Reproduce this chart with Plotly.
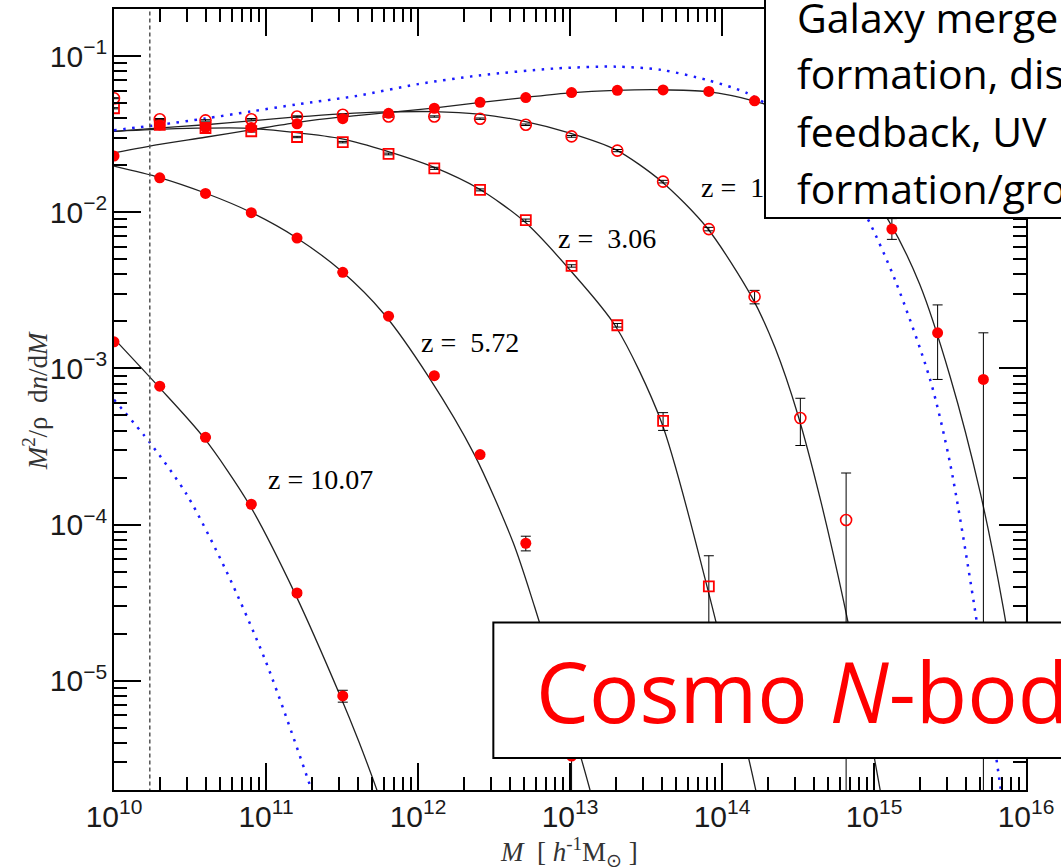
import numpy as np
import plotly.graph_objects as go

# ---- halo mass bins (h^-1 Msun), factor-of-two spacing ----
mass_bins = [1.0e10, 2.0e10, 4.0e10, 8.0e10, 1.6e11, 3.2e11, 6.4e11, 1.28e12, 2.56e12, 5.12e12,
             1.024e13, 2.048e13, 4.096e13, 8.192e13, 1.638e14, 3.277e14, 6.554e14, 1.311e15,
             2.621e15, 5.243e15]

# ---- measured mass functions  M^2/rho dn/dM ----
z0_vals = [0.0229, 0.0362, 0.0349, 0.0349, 0.0368, 0.0397, 0.0430, 0.0463, 0.0505, 0.0542,
           0.0583, 0.0603, 0.0607, 0.0593, 0.0517, 0.0400, 0.0212, 0.0078, 0.00169, 0.00085]
z0_err_hi = [0.0004, 0.0003, 0.0003, 0.0003, 0.0003, 0.0003, 0.0003, 0.0003, 0.0004, 0.0004,
             0.0005, 0.0005, 0.0006, 0.0008, 0.0012, 0.0020, 0.0025, 0.0013, 0.00086, 0.00084]
z0_err_lo = [0.0004, 0.0003, 0.0003, 0.0003, 0.0003, 0.0003, 0.0003, 0.0003, 0.0004, 0.0004,
             0.0005, 0.0005, 0.0006, 0.0008, 0.0012, 0.0020, 0.0025, 0.0011, 0.00084, 0.00085]

z15_vals = [0.0537, 0.0394, 0.0387, 0.0394, 0.0410, 0.0421, 0.0410, 0.0410, 0.0397, 0.0363,
            0.0306, 0.0248, 0.0157, 0.0078, 0.00288, 0.000481, 0.000107]
z15_err_hi = [0.0004, 0.0004, 0.0004, 0.0004, 0.0004, 0.0004, 0.0004, 0.0004, 0.0004, 0.0004,
              0.0004, 0.0004, 0.0003, 0.0002, 0.00028, 0.000163, 0.000107]
z15_err_lo = [0.0004, 0.0004, 0.0004, 0.0004, 0.0004, 0.0004, 0.0004, 0.0004, 0.0004, 0.0004,
              0.0004, 0.0004, 0.0003, 0.0002, 0.00029, 0.000160, 0.000107]

z306_vals = [0.0463, 0.0362, 0.0346, 0.0330, 0.0303, 0.0281, 0.0236, 0.0191, 0.0139, 0.00889,
             0.00453, 0.00189, 0.000461, 0.0000402]
z306_err_hi = [0.0004, 0.0004, 0.0004, 0.0004, 0.0003, 0.0003, 0.0003, 0.0003, 0.0002, 0.00015,
               0.00008, 0.00005, 0.00006, 0.000023]
z306_err_lo = [0.0004, 0.0004, 0.0004, 0.0004, 0.0003, 0.0003, 0.0003, 0.0003, 0.0002, 0.00015,
               0.00008, 0.00005, 0.00006, 0.000030]

z572_vals = [0.0166, 0.0132, 0.00994, 0.00683, 0.00412, 0.00216, 0.000898, 0.000281, 0.000076,
             0.0000033]
z572_err_hi = [0.0001, 0.0001, 0.00008, 0.00006, 0.00004, 0.00002, 0.000012, 0.000008, 0.0000083,
               0.0000030]
z572_err_lo = [0.0001, 0.0001, 0.00008, 0.00006, 0.00004, 0.00002, 0.000012, 0.000008, 0.0000081,
               0.0000033]

z1007_vals = [0.00148, 0.00077, 0.000362, 0.000135, 0.0000365, 0.0000080]
z1007_err = [0.00002, 0.00001, 0.000005, 0.000002, 0.0000012, 0.0000007]

# ---- fitted mass functions (log10 M, log10 f) ----
fit_z0_logm = [10.0, 10.3, 10.6, 10.9, 11.2, 11.5, 11.8, 12.1, 12.4, 12.7, 13.0, 13.3, 13.6, 13.9,
               14.2, 14.5, 14.8, 15.1, 15.3, 15.5, 15.7, 15.85, 16.0]
fit_z0_logf = [-1.62, -1.565, -1.52, -1.473, -1.426, -1.39, -1.362, -1.333, -1.298, -1.266, -1.236,
               -1.22, -1.216, -1.228, -1.285, -1.39, -1.64, -2.06, -2.46, -3.05, -3.80, -4.53, -5.45]

fit_z15_logm = [10.0, 10.24, 10.6, 10.9, 11.2, 11.5, 11.8, 12.1, 12.4, 12.7, 13.0, 13.3, 13.6, 13.9,
                14.2, 14.35, 14.5, 14.65, 14.8, 14.95, 15.05]
fit_z15_logf = [-1.482, -1.465, -1.44, -1.415, -1.39, -1.37, -1.358, -1.356, -1.372, -1.418, -1.493,
                -1.599, -1.801, -2.098, -2.55, -2.87, -3.30, -3.85, -4.49, -5.22, -5.75]

fit_z306_logm = [10.0, 10.24, 10.55, 10.85, 11.2, 11.5, 11.8, 12.1, 12.4, 12.7, 13.0, 13.3, 13.6,
                 13.9, 14.22, 14.3]
fit_z306_logf = [-1.482, -1.471, -1.462, -1.461, -1.49, -1.53, -1.61, -1.71, -1.85, -2.06, -2.37,
                 -2.73, -3.34, -4.39, -5.69, -6.1]

fit_z572_logm = [10.0, 10.3, 10.6, 10.9, 11.2, 11.5, 11.775, 12.07, 12.371, 12.626, 12.768, 13.073,
                 13.128, 13.2]
fit_z572_logf = [-1.705, -1.778, -1.877, -2.0, -2.163, -2.38, -2.65, -3.054, -3.552, -4.115, -4.529,
                 -5.495, -5.686, -5.95]

fit_z1007_logm = [10.0, 10.29, 10.59, 10.89, 11.19, 11.49, 11.61, 11.73, 11.8]
fit_z1007_logf = [-2.809, -3.113, -3.442, -3.871, -4.44, -5.10, -5.387, -5.70, -5.9]

# ---- Press-Schechter predictions (log10 M, log10 f) ----
ps_z0_logm = [10.0, 10.3, 10.6, 10.9, 11.2, 11.6, 12.0, 12.4, 12.9, 13.3, 13.6, 13.9, 14.17, 14.4,
              14.6, 14.8, 14.96, 15.14, 15.37, 15.5, 15.66, 15.82, 15.95]
ps_z0_logf = [-1.475, -1.44, -1.40, -1.355, -1.31, -1.255, -1.18, -1.125, -1.08, -1.068, -1.089,
              -1.153, -1.24, -1.38, -1.55, -1.78, -2.045, -2.437, -3.074, -3.605, -4.52, -5.6, -6.5]

ps_z1007_logm = [10.0, 10.24, 10.48, 10.74, 11.0, 11.3, 11.45]
ps_z1007_logf = [-3.20, -3.48, -3.81, -4.30, -4.88, -5.70, -6.15]

# 20-particle resolution limit
resolution_mass = 1.72e10

redshift_labels = ["z = 10.07", "z =\u00a0 5.72", "z =\u00a0 3.06", "z =\u00a0 1.50"]
label_logm = [11.0, 12.004, 12.908, 13.851]
label_logf = [-3.711, -2.831, -2.166, -1.843]

box_lines = ["Galaxy merge", "formation, dis", "feedback, UV", "formation/gro"]
box_baselines = [31, 87, 145, 202]
banner_text = "Cosmo <i>N</i>-bod"

RED = "#ff0000"
SERIF = "Liberation Serif, Times New Roman, serif"
SANS = "Liberation Sans, Arial, sans-serif"

fig = go.Figure()

# fitted curves
for lm, lf in [(fit_z0_logm, fit_z0_logf), (fit_z15_logm, fit_z15_logf),
               (fit_z306_logm, fit_z306_logf), (fit_z572_logm, fit_z572_logf),
               (fit_z1007_logm, fit_z1007_logf)]:
    fig.add_trace(go.Scatter(x=10 ** np.array(lm), y=10 ** np.array(lf), mode="lines",
                             line=dict(color="#222222", width=1.3, shape="spline", smoothing=0.8),
                             showlegend=False, hoverinfo="skip"))

# Press-Schechter curves
for lm, lf in [(ps_z0_logm, ps_z0_logf), (ps_z1007_logm, ps_z1007_logf)]:
    fig.add_trace(go.Scatter(x=10 ** np.array(lm), y=10 ** np.array(lf), mode="lines",
                             line=dict(color="#1a1aff", width=2.5, dash="2.5px,6.5px",
                                       shape="spline", smoothing=0.8),
                             showlegend=False, hoverinfo="skip"))

# resolution limit
fig.add_trace(go.Scatter(x=[resolution_mass, resolution_mass], y=[1e-8, 10], mode="lines",
                         line=dict(color="#555555", width=1.5, dash="4px,3px"),
                         showlegend=False, hoverinfo="skip"))


def err(hi, lo):
    return dict(type="data", array=hi, arrayminus=lo, symmetric=False,
                color="black", thickness=1, width=5)


fig.add_trace(go.Scatter(x=mass_bins[:6], y=z1007_vals, mode="markers",
                         marker=dict(symbol="circle", size=11, color=RED),
                         error_y=err(z1007_err, z1007_err), showlegend=False))
fig.add_trace(go.Scatter(x=mass_bins[1:11], y=z572_vals, mode="markers",
                         marker=dict(symbol="circle", size=11, color=RED),
                         error_y=err(z572_err_hi, z572_err_lo), showlegend=False))
fig.add_trace(go.Scatter(x=mass_bins[:14], y=z306_vals, mode="markers",
                         marker=dict(symbol="square-open", size=10, color=RED,
                                     line=dict(width=1.8, color=RED)),
                         error_y=err(z306_err_hi, z306_err_lo), showlegend=False))
fig.add_trace(go.Scatter(x=mass_bins[:17], y=z15_vals, mode="markers",
                         marker=dict(symbol="circle-open", size=11, color=RED,
                                     line=dict(width=1.6, color=RED)),
                         error_y=err(z15_err_hi, z15_err_lo), showlegend=False))
fig.add_trace(go.Scatter(x=mass_bins, y=z0_vals, mode="markers",
                         marker=dict(symbol="circle", size=11, color=RED),
                         error_y=err(z0_err_hi, z0_err_lo), showlegend=False))

L, R, T, B = 114, 31, 7, 77
W, H = 1061, 867
pw, ph = W - L - R, H - T - B


def px_x(px):
    return (px - L) / pw


def px_y(py):
    return (H - B - py) / ph


annotations = []
for txt, lm, lf in zip(redshift_labels, label_logm, label_logf):
    annotations.append(dict(x=lm, y=lf, xref="x", yref="y", text=txt, showarrow=False,
                            xanchor="left", yanchor="middle",
                            font=dict(family=SERIF, size=28, color="black")))

# overlay text box (top right)
annotations.append(dict(x=px_x(767), y=px_y(218), xref="paper", yref="paper", text=" ",
                        showarrow=False, xanchor="left", yanchor="bottom", width=420, height=280,
                        bgcolor="white", bordercolor="black", borderwidth=2, borderpad=0))
for txt, bl in zip(box_lines, box_baselines):
    annotations.append(dict(x=px_x(798), y=px_y(bl - 16), xref="paper", yref="paper", text=txt,
                            showarrow=False, xanchor="left", yanchor="middle",
                            font=dict(family="Open Sans", size=41, color="black")))

annotations.append(dict(x=px_x(536), y=px_y(722 - 32), xref="paper", yref="paper",
                        text=banner_text, showarrow=False, xanchor="left",
                        yanchor="middle", font=dict(family="Open Sans", size=84, color=RED)))

# axis titles
annotations.append(dict(x=px_x(571), y=px_y(852), xref="paper", yref="paper",
                        text="<i>M</i>\u00a0 [ <i>h</i><sup>-1</sup>M<sub>⊙</sub> ]",
                        showarrow=False, xanchor="center", yanchor="middle",
                        font=dict(family=SERIF, size=27, color="#333333")))
annotations.append(dict(x=px_x(35), y=px_y(400), xref="paper", yref="paper",
                        text="<i>M</i><sup>2</sup>/ρ\u00a0 d<i>n</i>/d<i>M</i>",
                        showarrow=False, xanchor="center", yanchor="middle", textangle=-90,
                        font=dict(family=SERIF, size=27, color="#333333")))

shapes = [dict(type="rect", xref="paper", yref="paper", x0=px_x(495), x1=px_x(1100),
               y0=px_y(758), y1=px_y(622), fillcolor="white",
               line=dict(color="black", width=2), layer="above")]

axis_common = dict(type="log", dtick=1, showgrid=False, zeroline=False, showline=True,
                   linecolor="black", linewidth=2, mirror="ticks", ticks="inside", ticklen=27,
                   tickwidth=2, tickcolor="black", exponentformat="power",
                   tickfont=dict(family=SANS, size=24, color="#1a1a1a"),
                   minor=dict(ticks="inside", ticklen=13, tickwidth=2, tickcolor="black",
                              dtick="D1", showgrid=False))

fig.update_layout(
    width=W, height=H, margin=dict(l=L, r=R, t=T, b=B),
    paper_bgcolor="white", plot_bgcolor="white",
    xaxis=dict(range=[10, 16], **axis_common),
    yaxis=dict(range=[np.log10(2e-6), np.log10(0.2)], **axis_common),
    annotations=annotations, shapes=shapes, showlegend=False,
)

fig.write_html("out.html")
